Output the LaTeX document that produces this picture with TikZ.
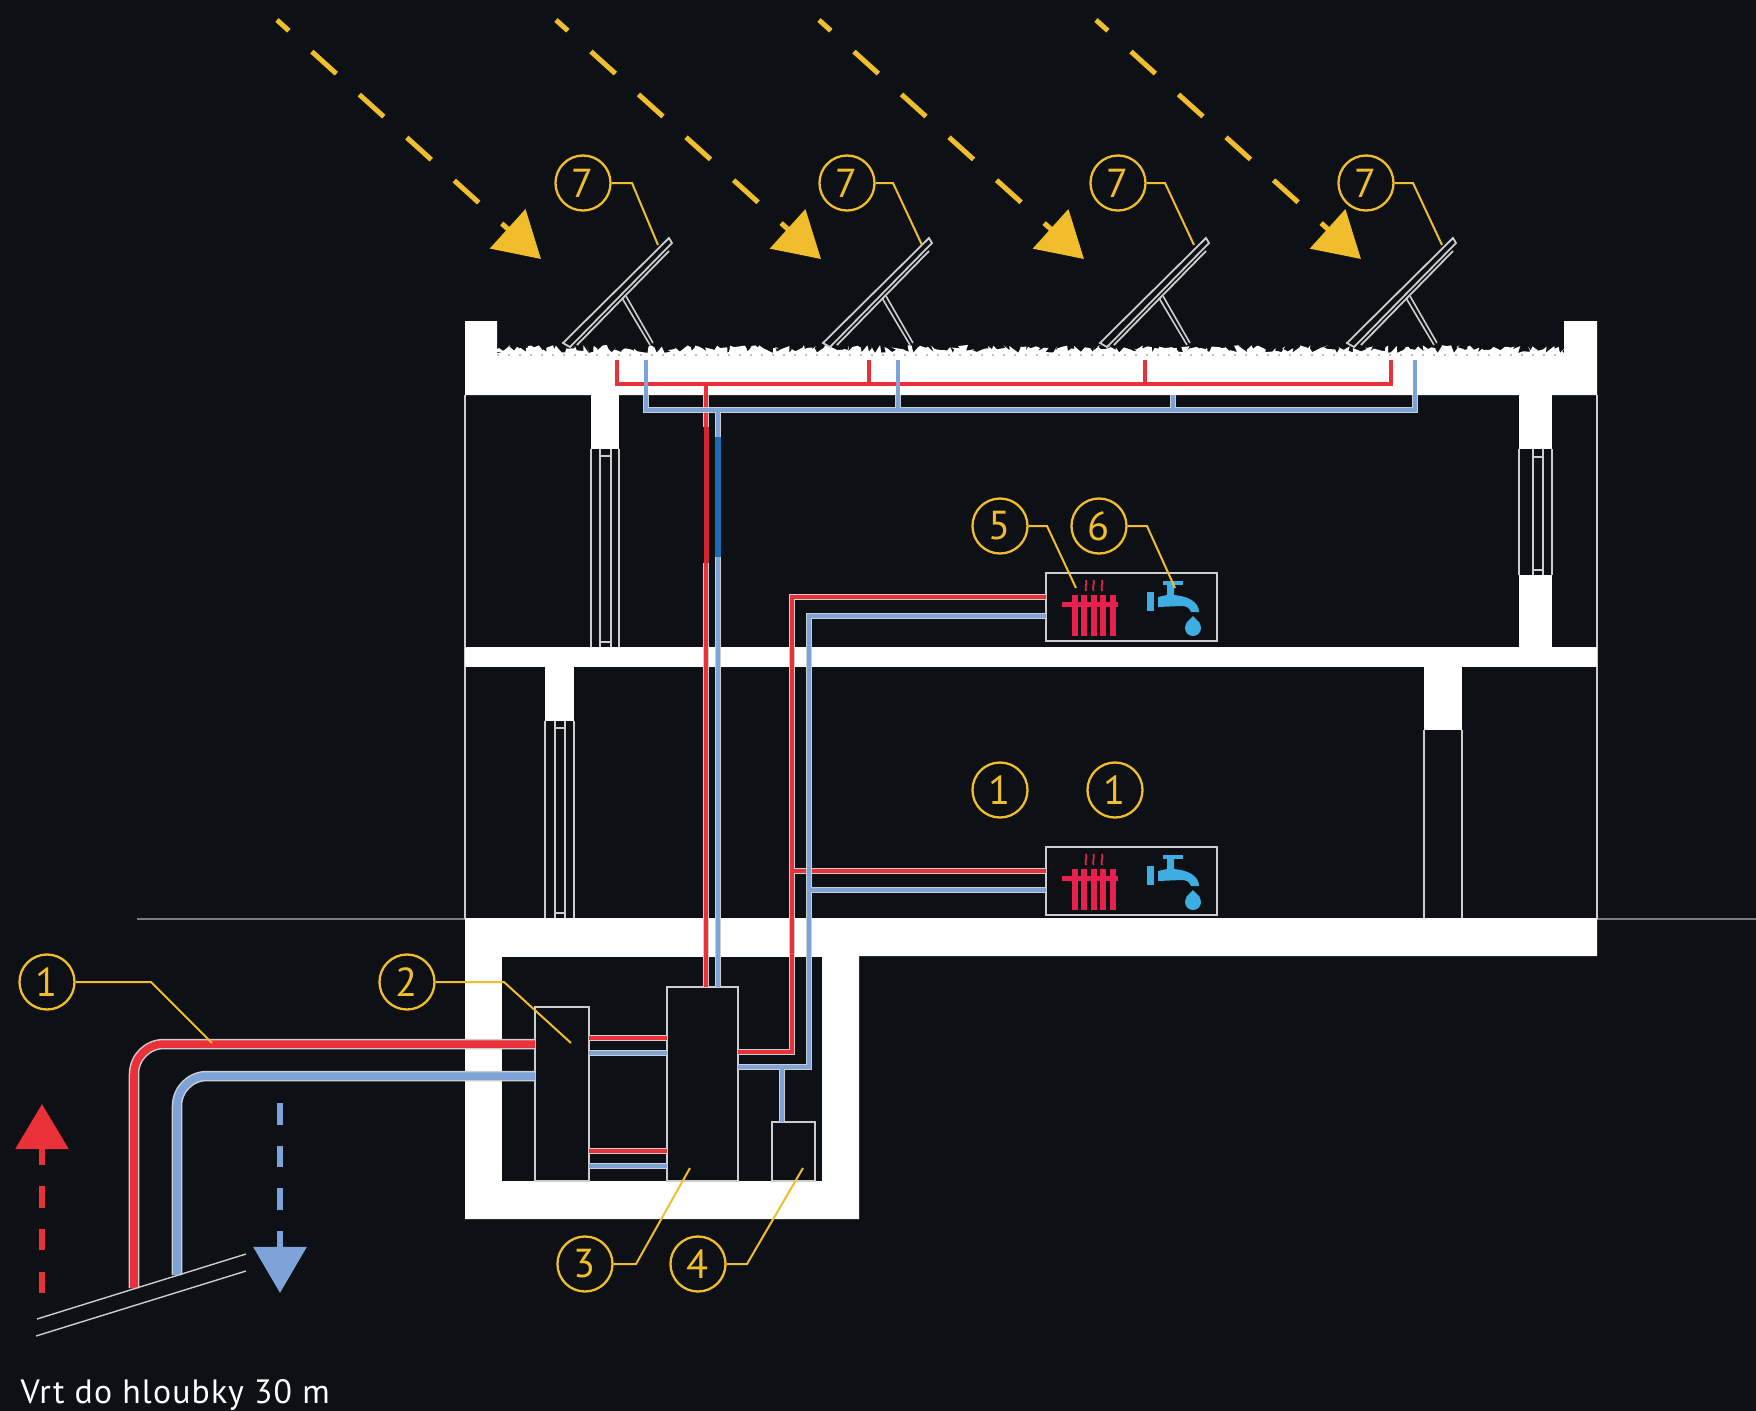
\documentclass[tikz,border=0pt]{standalone}
\usepackage{fontspec}
\setmainfont{PT Sans}
\usetikzlibrary{arrows.meta,decorations.pathmorphing,fit}
\definecolor{hpdark}{RGB}{13,16,20}
\definecolor{hpyellow}{RGB}{240,190,44}
\definecolor{hpred}{RGB}{234,48,56}
\definecolor{hpblue}{RGB}{125,163,216}
\definecolor{hpgrey}{RGB}{205,205,205}
\definecolor{hpcrimson}{RGB}{232,32,78}
\definecolor{hptap}{RGB}{62,174,226}
\definecolor{hpdeepred}{RGB}{212,36,44}
\definecolor{hpdeepblue}{RGB}{30,108,176}
\tikzset{
  callout/.style={circle,draw=hpyellow,line width=.023cm,minimum size=.55cm,inner sep=0pt,text=hpyellow,font=\fontsize{11.5}{12}\selectfont},
  leader/.style={draw=hpyellow,line width=.02cm},
  unitbox/.style={draw=hpgrey,fill=hpdark,line width=.016cm,inner sep=0pt,outer sep=0pt},
  hairline/.style={draw=hpgrey,line width=.014cm},
  redpipe/.style={draw=hpgrey,line width=.012cm,double=hpred,double distance=.045cm},
  bluepipe/.style={draw=hpgrey,line width=.012cm,double=hpblue,double distance=.045cm},
  sun/.style={hpyellow,line width=.05cm,dash pattern=on .33cm off .31cm,dash phase=.17cm,-{Triangle[length=.45cm,width=.52cm]}},
  solarpanel/.pic={
    \draw[hairline,line width=.018cm] (0,0) -- (106,-105) -- (109,-100) -- (7,4) -- cycle (14,2) -- (106,-92);
    \draw[hairline,line width=.016cm] (59,-45) -- (87,2) (63,-47) -- (90,0);
  },
  heater/.pic={
    \fill[hpcrimson] (16,29) rectangle (72,34);
    \foreach \cx in {26,35,45,54,64} \fill[hpcrimson] (\cx,22) rectangle ++(6,41);
    \foreach \sx in {40,47.5,56} \draw[hpcrimson,line width=.017cm] (\sx,7) .. controls (\sx+1.5,10) and (\sx-1.5,14) .. (\sx,18);
  },
  tapicon/.pic={
    \fill[hptap] (101,19) rectangle (108,38);
    \fill[hptap] (117,8) rectangle (137,12);
    \fill[hptap] (112,24) -- (121,22) -- (121,12) -- (128,12) -- (128,22) .. controls (142,23) and (153,29) .. (153,39) -- (145,39) .. controls (143,34) and (140,33) .. (135,33) -- (112,34) -- cycle;
    \fill[hptap] (147,43) -- (154,50) -- (140,50) -- cycle (147,55) circle[radius=8];
  },
}
\begin{document}
\begin{tikzpicture}[x=.01cm,y=-.01cm]
  \useasboundingbox (0,0) rectangle (1756,1411);
  \fill[hpdark] (0,0) rectangle (1756,1411);
  \draw[black!40!hpgrey,line width=.016cm] (137,919) -- (465,919) (1597,919) -- (1756,919);
  \draw[hairline] (465,395) -- (465,919) (1597,395) -- (1597,919);
  \pgfmathsetseed{7}
  \fill[white,decorate,decoration={random steps,segment length=.026cm,amplitude=.04cm}] (497,349) -- (1564,349) -- (1564,385) -- (497,385) -- cycle;
  \fill[white] (465,321) -- (497,321) -- (497,353) -- (1564,353) -- (1564,321) -- (1597,321) -- (1597,395) -- (465,395) -- cycle;
  \draw[black!25,line width=.02cm,dash pattern=on .02cm off .09cm] (497,355) -- (1564,355);
  \fill[white] (465,647) rectangle (1597,667);
  \fill[white] (591,395) rectangle (619,449);
  \fill[white] (1519,395) rectangle (1552,449);
  \fill[white] (1519,575) rectangle (1552,647);
  \fill[white] (545,667) rectangle (574,721);
  \fill[white] (1424,667) rectangle (1462,730);
  \fill[white] (465,918) -- (1597,918) -- (1597,956) -- (859,956) -- (859,1219) -- (465,1219) -- cycle;
  \fill[hpdark] (502,957) rectangle (822,1181);
  \draw[hairline] (591,449) -- (591,647) (619,449) -- (619,647) (600,449) -- (600,647) (611,449) -- (611,647) (600,456) -- (611,456) (600,642) -- (611,642);
  \draw[hairline] (1519,449) -- (1519,575) (1552,449) -- (1552,575) (1533,449) -- (1533,575) (1543,449) -- (1543,575) (1533,457) -- (1543,457) (1533,570) -- (1543,570);
  \draw[hairline] (545,721) -- (545,918) (574,721) -- (574,918) (555,721) -- (555,918) (565,721) -- (565,918) (555,728) -- (565,728) (555,913) -- (565,913);
  \draw[hairline] (1424,730) -- (1424,918) (1462,730) -- (1462,918);
  \foreach \sx in {563,823,1100,1347} \pic at (\sx,343) {solarpanel};
  \node[unitbox,fit={(535,1007)(589,1181)}] (exchanger) {};
  \node[unitbox,fit={(667,987)(738,1181)}] (tank) {};
  \node[unitbox,fit={(772,1122)(815,1181)}] (vessel) {};
  \node[unitbox,fit={(1046,573)(1217,641)}] (upperbox) {};
  \node[unitbox,fit={(1046,847)(1217,915)}] (lowerbox) {};
  \draw[redpipe] (upperbox.west |- 0,597) -- (792,597) -- (792,1052) -- (tank.east |- 0,1052) (792,871) -- (lowerbox.west |- 0,871);
  \draw[bluepipe] (upperbox.west |- 0,616) -- (809,616) -- (809,1067) -- (tank.east |- 0,1067) (809,890) -- (lowerbox.west |- 0,890) (782,1067) -- (vessel.north -| 782,0);
  \draw[redpipe] (706,395) -- (tank.north -| 706,0);
  \draw[bluepipe] (646,395) -- (646,410) -- (1415,410) -- (1415,395) (898,395) -- (898,410) (1173,395) -- (1173,410) (718,410) -- (tank.north -| 718,0);
  \draw[redpipe] (exchanger.east |- 0,1038) -- (tank.west |- 0,1038);
  \draw[bluepipe] (exchanger.east |- 0,1053) -- (tank.west |- 0,1053);
  \draw[redpipe] (exchanger.east |- 0,1151) -- (tank.west |- 0,1151);
  \draw[bluepipe] (exchanger.east |- 0,1166) -- (tank.west |- 0,1166);
  \draw[hpred,line width=.045cm] (617,360) -- (617,384) -- (1391,384) -- (1391,360) (869,360) -- (869,384) (1145,360) -- (1145,384) (706,384) -- (706,400);
  \draw[hpblue,line width=.045cm] (646,360) -- (646,400) (898,360) -- (898,400) (1415,360) -- (1415,400);
  \draw[hpdark,line width=.085cm] (706,427) -- (706,563) (718,437) -- (718,557);
  \draw[hpdeepred,line width=.05cm] (706,427) -- (706,563);
  \draw[hpdeepblue,line width=.06cm] (718,437) -- (718,557);
  \draw[draw=hpgrey,line width=.015cm,double=hpred,double distance=.075cm,rounded corners=.3cm] (134,1288) -- (134,1044) -- (exchanger.west |- 0,1044);
  \draw[draw=hpgrey,line width=.015cm,double=hpblue,double distance=.075cm,rounded corners=.3cm] (177,1275) -- (177,1076) -- (exchanger.west |- 0,1076);
  \draw[hairline] (37,1319) -- (246,1254) (36,1336) -- (246,1271);
  \draw[hpred,line width=.06cm,dash pattern=on .215cm off .21cm,-{Triangle[length=.45cm,width=.52cm]}] (42,1293) -- (42,1104);
  \draw[hpblue,line width=.06cm,dash pattern=on .215cm off .21cm,-{Triangle[length=.46cm,width=.52cm]}] (280,1103) -- (280,1293);
  \draw[sun] (277,20) -- (541,259);
  \draw[sun] (556,20) -- (821,259);
  \draw[sun] (819,20) -- (1084,259);
  \draw[sun] (1096,20) -- (1361,259);
  \pic at (upperbox.north west) {heater};
  \pic at (upperbox.north west) {tapicon};
  \pic at (lowerbox.north west) {heater};
  \pic at (lowerbox.north west) {tapicon};
  \node[callout] (sevena) at (583,183) {7};
  \node[callout] (sevenb) at (847,183) {7};
  \node[callout] (sevenc) at (1118,183) {7};
  \node[callout] (sevend) at (1366,183) {7};
  \node[callout] (five) at (1000,526) {5};
  \node[callout] (six) at (1099,526) {6};
  \node[callout] (onea) at (1000,790) {1};
  \node[callout] (oneb) at (1115,790) {1};
  \node[callout] (oneleft) at (47,982) {1};
  \node[callout] (two) at (407,982) {2};
  \node[callout] (three) at (585,1264) {3};
  \node[callout] (four) at (698,1264) {4};
  \coordinate (panela) at (658,245);
  \coordinate (panelb) at (922,245);
  \coordinate (panelc) at (1194,245);
  \coordinate (paneld) at (1442,245);
  \coordinate (radiator) at (1076,588);
  \coordinate (faucet) at (1175,588);
  \coordinate (groundpipe) at (212,1043);
  \coordinate (exchangerend) at (571,1043);
  \coordinate (tankend) at (690,1168);
  \coordinate (vesselend) at (803,1168);
  \draw[leader] (sevena.east) -- (632,183) -- (panela);
  \draw[leader] (sevenb.east) -- (893,183) -- (panelb);
  \draw[leader] (sevenc.east) -- (1165,183) -- (panelc);
  \draw[leader] (sevend.east) -- (1413,183) -- (paneld);
  \draw[leader] (five.east) -- (1047,526) -- (radiator);
  \draw[leader] (six.east) -- (1147,526) -- (faucet);
  \draw[leader] (oneleft.east) -- (151,982) -- (groundpipe);
  \draw[leader] (two.east) -- (504,982) -- (exchangerend);
  \draw[leader] (three.east) -- (636,1264) -- (tankend);
  \draw[leader] (four.east) -- (747,1264) -- (vesselend);
  \node[anchor=base west,inner sep=0pt,text=white,font=\fontsize{9.6}{10}\selectfont\addfontfeature{LetterSpace=3.5}] (depth) at (20,1403) {Vrt do hloubky 30 m};
\end{tikzpicture}
\end{document}
